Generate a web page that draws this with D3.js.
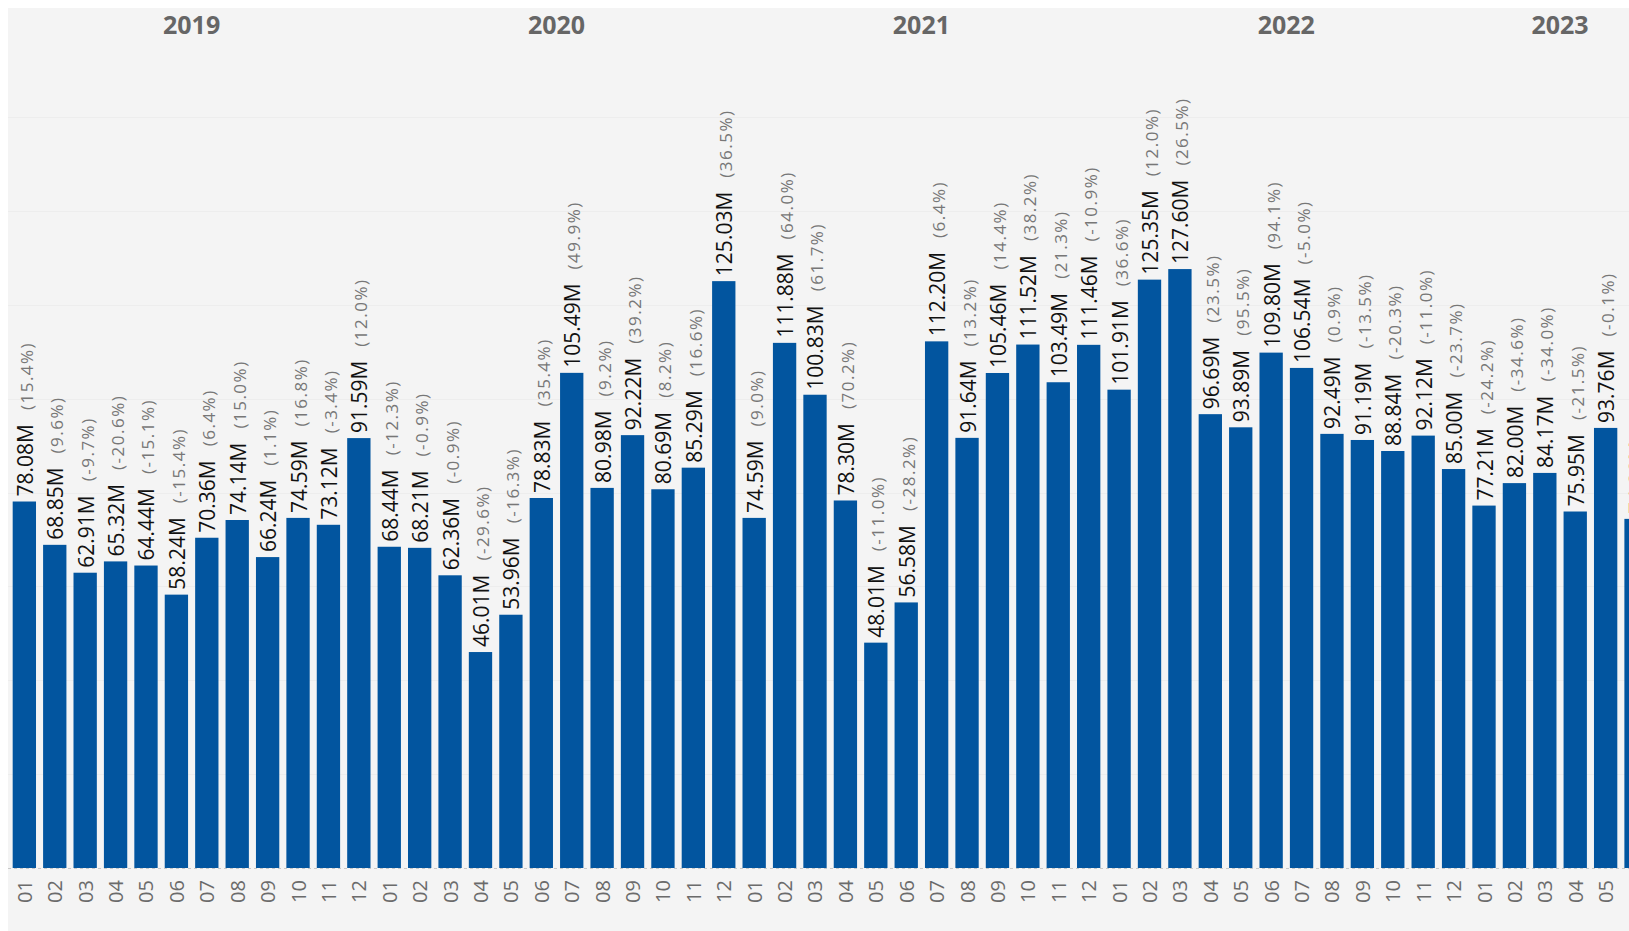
<!DOCTYPE html>
<html>
<head>
<meta charset="utf-8">
<script src="https://cdn.jsdelivr.net/npm/d3@7"></script>
<style>
	body { margin: 0; background: #fff; overflow: hidden; }
	svg { display: block; }
</style>
</head>
<body>
<svg id="chart"></svg>
<script>

// years shown above the bars and month labels under them
var years = ['2019', '2020', '2021', '2022', '2023'];
var monthLabels = ['01', '02', '03', '04', '05', '06', '07', '08', '09', '10', '11', '12'];

// monthly values in millions, Jan 2019 - Jun 2023
var values = [
	78.08, 68.85, 62.91, 65.32, 64.44, 58.24, 70.36, 74.14, 66.24, 74.59, 73.12, 91.59,
	68.44, 68.21, 62.36, 46.01, 53.96, 78.83, 105.49, 80.98, 92.22, 80.69, 85.29, 125.03,
	74.59, 111.88, 100.83, 78.30, 48.01, 56.58, 112.20, 91.64, 105.46, 111.52, 103.49, 111.46,
	101.91, 125.35, 127.60, 96.69, 93.89, 109.80, 106.54, 92.49, 91.19, 88.84, 92.12, 85.00,
	77.21, 82.00, 84.17, 75.95, 93.76, 74.38
];

// change against the same month of the year before, in percent
var yoyChanges = [
	15.4, 9.6, -9.7, -20.6, -15.1, -15.4, 6.4, 15.0, 1.1, 16.8, -3.4, 12.0,
	-12.3, -0.9, -0.9, -29.6, -16.3, 35.4, 49.9, 9.2, 39.2, 8.2, 16.6, 36.5,
	9.0, 64.0, 61.7, 70.2, -11.0, -28.2, 6.4, 13.2, 14.4, 38.2, 21.3, -10.9,
	36.6, 12.0, 26.5, 23.5, 95.5, 94.1, -5.0, 0.9, -13.5, -20.3, -11.0, -23.7,
	-24.2, -34.6, -34.0, -21.5, -0.1, -32.3
];

var width = 1629,
	height = 931;

// build one row per month
var data = values.map(function(v, i) {
	return {
		key: years[Math.floor(i / 12)] + '-' + monthLabels[i % 12],
		year: years[Math.floor(i / 12)],
		month: monthLabels[i % 12],
		value: v,
		change: yoyChanges[i]
	};
});

var svg = d3.select('#chart')
	.attr('width', width)
	.attr('height', height);

// grey panel behind the chart
svg.append('rect')
	.attr('x', 8)
	.attr('y', 8)
	.attr('width', width)
	.attr('height', height)
	.attr('fill', '#f4f4f4');

var x = d3.scaleBand()
	.domain(data.map(function(d) { return d.key; }))
	.range([5.6, 1654.8])
	.paddingInner(0.233)
	.paddingOuter(0.233);

var y = d3.scaleLinear()
	.domain([0, 160])
	.range([868, 117]);

// faint horizontal grid
svg.append('g')
	.selectAll('line')
	.data(y.ticks(8).filter(function(t) { return t > 0; }))
	.enter().append('line')
		.attr('x1', 8)
		.attr('x2', width)
		.attr('y1', function(t) { return Math.round(y(t)) + 0.5; })
		.attr('y2', function(t) { return Math.round(y(t)) + 0.5; })
		.attr('stroke', '#ededed')
		.attr('stroke-width', 1);

// bars
svg.append('g')
	.selectAll('rect')
	.data(data)
	.enter().append('rect')
		.attr('x', function(d) { return x(d.key); })
		.attr('y', function(d) { return y(d.value); })
		.attr('width', x.bandwidth())
		.attr('height', function(d) { return y(0) - y(d.value); })
		.attr('fill', '#02559f');

// dashed base line
svg.append('line')
	.attr('x1', 8)
	.attr('x2', width)
	.attr('y1', y(0) + 0.5)
	.attr('y2', y(0) + 0.5)
	.attr('stroke', '#c8c8c8')
	.attr('stroke-dasharray', '3,3');

// value labels with the yearly change behind them
var label = svg.append('g')
	.selectAll('text')
	.data(data)
	.enter().append('text')
		.attr('transform', function(d) {
			return 'translate(' + (x(d.key) + x.bandwidth() / 2 + 8.5) + ',' +
				(y(d.value) - 5) + ') rotate(-90)';
		})
		.attr('text-anchor', 'start');

label.append('tspan')
	.style('font', '21px "Open Sans", sans-serif')
	.attr('fill', '#111')
	.text(function(d) { return d.value.toFixed(2) + 'M'; });

label.append('tspan')
	.attr('dx', 14)
	.style('font', '17px "Open Sans", sans-serif')
	.style('letter-spacing', '1.5px')
	.attr('fill', '#777')
	.text(function(d) { return '(' + d.change.toFixed(1) + '%)'; });

// month labels under the bars
var xAxis = d3.axisBottom(x)
	.tickSize(0)
	.tickFormat(function(k) { return k.slice(5); });

var axis = svg.append('g')
	.attr('transform', 'translate(0,' + y(0) + ')')
	.call(xAxis);

axis.select('.domain').remove();

axis.selectAll('text')
	.attr('transform', 'translate(7.5, 12) rotate(-90)')
	.attr('x', 0)
	.attr('y', 0)
	.attr('dy', 0)
	.attr('text-anchor', 'end')
	.style('font', '20px "Open Sans", sans-serif')
	.attr('fill', '#6b6b6b');

// year headings centred over their months
svg.append('g')
	.selectAll('text')
	.data(years)
	.enter().append('text')
		.attr('x', function(yr) {
			var keys = data.filter(function(d) { return d.year === yr; });
			var first = x(keys[0].key),
				last = x(keys[keys.length - 1].key) + x.bandwidth();
			return (first + last) / 2;
		})
		.attr('y', 34)
		.attr('text-anchor', 'middle')
		.style('font', 'bold 25px "Open Sans", sans-serif')
		.attr('fill', '#666')
		.text(function(yr) { return yr; });

</script>
</body>
</html>
